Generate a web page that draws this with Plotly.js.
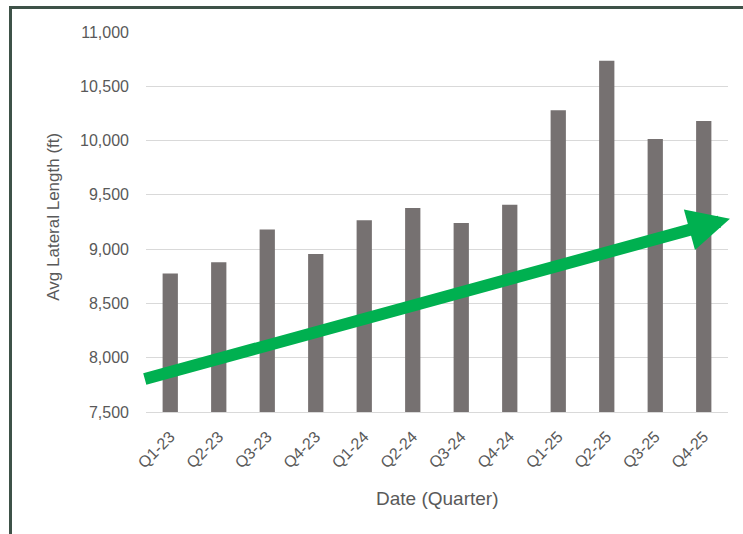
<!DOCTYPE html>
<html>
<head>
<meta charset="utf-8">
<script src="https://cdn.plot.ly/plotly-3.0.1.min.js"></script>
<style>
  html, body { margin: 0; padding: 0; background: #ffffff; overflow: hidden; }
  #wrap { position: relative; width: 743px; height: 534px; }
  #chart { position: absolute; left: 0; top: 0; width: 743px; height: 534px; }
  #frame { position: absolute; left: 9px; top: 6px; width: 800px; height: 600px;
           border-left: 3px solid #3e5248; border-top: 3px solid #3e5248;
           pointer-events: none; box-sizing: border-box; }
</style>
</head>
<body>
<div id="wrap">
  <div id="chart"></div>
  <div id="frame"></div>
</div>
<script>
// ---- data ----
const quarters = ["Q1-23","Q2-23","Q3-23","Q4-23","Q1-24","Q2-24","Q3-24","Q4-24","Q1-25","Q2-25","Q3-25","Q4-25"];
const avgLateralLength = [8775, 8880, 9180, 8955, 9265, 9380, 9240, 9410, 10280, 10735, 10015, 10180];
const yTickValues = [7500, 8000, 8500, 9000, 9500, 10000, 10500, 11000];
const yRange = [7500, 11000];
// trend arrow: category-index position and value of its tail and tip
const trendArrowStart = { x: -0.55, y: 7800 };
const trendArrowEnd = { x: 11.54, y: 9280 };
const xTitle = "Date (Quarter)";
const yTitle = "Avg Lateral Length (ft)";

const W = 743, H = 534;
const M = { l: 146, r: 14.7, t: 31.7, b: 122.3 };
const plotW = W - M.l - M.r;
const plotH = H - M.t - M.b;
const nCat = quarters.length;
const toPaperX = i => (i + 0.5) / nCat;
const tipPX = toPaperX(trendArrowEnd.x);
const tailPX = toPaperX(trendArrowStart.x);
const arrowAx = (tailPX - tipPX) * plotW;
const arrowAy = -(trendArrowStart.y - trendArrowEnd.y) / (yRange[1] - yRange[0]) * plotH;

const tickFont = { family: "Liberation Sans, Arial, sans-serif", size: 16, color: "#595959" };

const trace = {
  type: "bar",
  x: quarters,
  y: avgLateralLength,
  marker: { color: "#767171" },
  hoverinfo: "x+y"
};

const layout = {
  width: W,
  height: H,
  margin: { l: M.l, r: M.r, t: M.t, b: M.b, pad: 0, autoexpand: false },
  paper_bgcolor: "#ffffff",
  plot_bgcolor: "#ffffff",
  bargap: 0.685,
  showlegend: false,
  xaxis: {
    type: "category",
    range: [-0.5, nCat - 0.5],
    tickangle: -45,
    tickfont: tickFont,
    showgrid: false,
    showline: true,
    linecolor: "#d9d9d9",
    linewidth: 1,
    ticks: "",
    ticklabelstandoff: 8,
    automargin: false,
    fixedrange: true
  },
  yaxis: {
    range: yRange,
    tickvals: yTickValues,
    tickformat: ",",
    tickfont: tickFont,
    showgrid: true,
    gridcolor: "#d9d9d9",
    gridwidth: 1,
    zeroline: false,
    showline: false,
    ticks: "",
    ticklabelstandoff: 16,
    automargin: false,
    fixedrange: true
  },
  annotations: [
    {
      xref: "paper", yref: "y", axref: "pixel", ayref: "pixel",
      x: tipPX, y: trendArrowEnd.y,
      ax: arrowAx, ay: arrowAy,
      text: "",
      showarrow: true,
      arrowhead: 2,
      arrowsize: 0.7,
      arrowwidth: 12,
      arrowcolor: "#00b050",
      standoff: 0,
      startstandoff: 0
    },
    {
      xref: "paper", yref: "paper",
      x: 0.5, y: 0,
      yshift: -(498 - 411.7),
      xanchor: "center", yanchor: "middle",
      text: xTitle,
      showarrow: false,
      font: { family: "Liberation Sans, Arial, sans-serif", size: 19, color: "#595959" }
    },
    {
      xref: "paper", yref: "paper",
      x: 0, y: 0.5,
      xshift: -(146 - 52.7),
      yshift: (221.7 - 216.7),
      xanchor: "center", yanchor: "middle",
      textangle: -90,
      text: yTitle,
      showarrow: false,
      font: { family: "Liberation Sans, Arial, sans-serif", size: 17, color: "#595959" }
    }
  ]
};

Plotly.newPlot("chart", [trace], layout, { staticPlot: true, displayModeBar: false });
</script>
</body>
</html>
